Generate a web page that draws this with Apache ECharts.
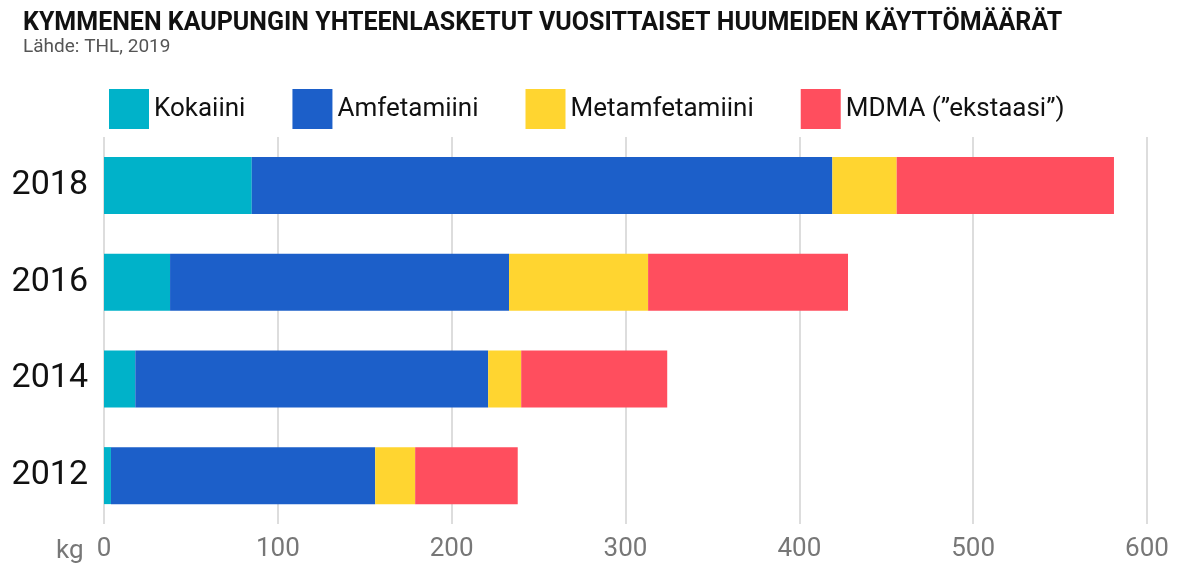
<!DOCTYPE html>
<html><head><meta charset="utf-8">
<script src="https://cdn.jsdelivr.net/npm/echarts@6/dist/echarts.min.js"></script>
<style>html,body{margin:0;background:#fff}#c{width:1198px;height:587px}</style>
</head><body><div id="c"></div>
<script>
// years bottom to top
const years = ['2012', '2014', '2016', '2018'];
const kokaiini = [4, 18, 38, 85];
const amfetamiini = [152, 203, 195, 334];
const metamfetamiini = [23, 19, 80, 37];
const mdma = [59, 84, 115, 125];
const xTicks = [0, 100, 200, 300, 400, 500, 600];

const chart = echarts.init(document.getElementById('c'));
const font = 'Roboto, "Liberation Sans", sans-serif';

function bar(name, data, color) {
  return { name: name, type: 'bar', stack: 't', data: data, barWidth: 57,
    itemStyle: { color: color }, emphasis: { disabled: true } };
}

chart.setOption({
  animation: false,
  textStyle: { fontFamily: font },
  title: {
    text: 'KYMMENEN KAUPUNGIN YHTEENLASKETUT VUOSITTAISET HUUMEIDEN KÄYTTÖMÄÄRÄT',
    subtext: 'Lähde: THL, 2019',
    left: 18, top: 6, itemGap: 2,
    textStyle: { fontSize: 25, fontWeight: 'bold', color: '#111', fontFamily: font },
    subtextStyle: { fontSize: 19, color: '#555', fontFamily: font }
  },
  legend: {
    left: 104, top: 84, itemWidth: 40, itemHeight: 40, itemGap: 47,
    icon: 'rect',
    textStyle: { fontSize: 26, color: '#111' },
    data: ['Kokaiini', 'Amfetamiini', 'Metamfetamiini', 'MDMA (”ekstaasi”)']
  },
  grid: { left: 104, right: 51, top: 137, bottom: 63 },
  xAxis: {
    type: 'value', min: 0, max: 600, interval: 100,
    axisLine: { show: false }, axisTick: { show: false },
    splitLine: { lineStyle: { color: '#ddd', width: 2 } },
    axisLabel: { fontSize: 26, color: '#777', margin: 12 }
  },
  yAxis: {
    type: 'category', data: years,
    axisLine: { show: false }, axisTick: { show: false },
    axisLabel: { fontSize: 34, color: '#111', margin: 16 }
  },
  graphic: [{ type: 'text', left: 56, top: 538,
    style: { text: 'kg', fontSize: 26, fill: '#777', fontFamily: font } }],
  series: [
    bar('Kokaiini', kokaiini, '#00b2c9'),
    bar('Amfetamiini', amfetamiini, '#1c5fc9'),
    bar('Metamfetamiini', metamfetamiini, '#ffd530'),
    bar('MDMA (”ekstaasi”)', mdma, '#ff4e5e')
  ]
});
</script></body></html>
